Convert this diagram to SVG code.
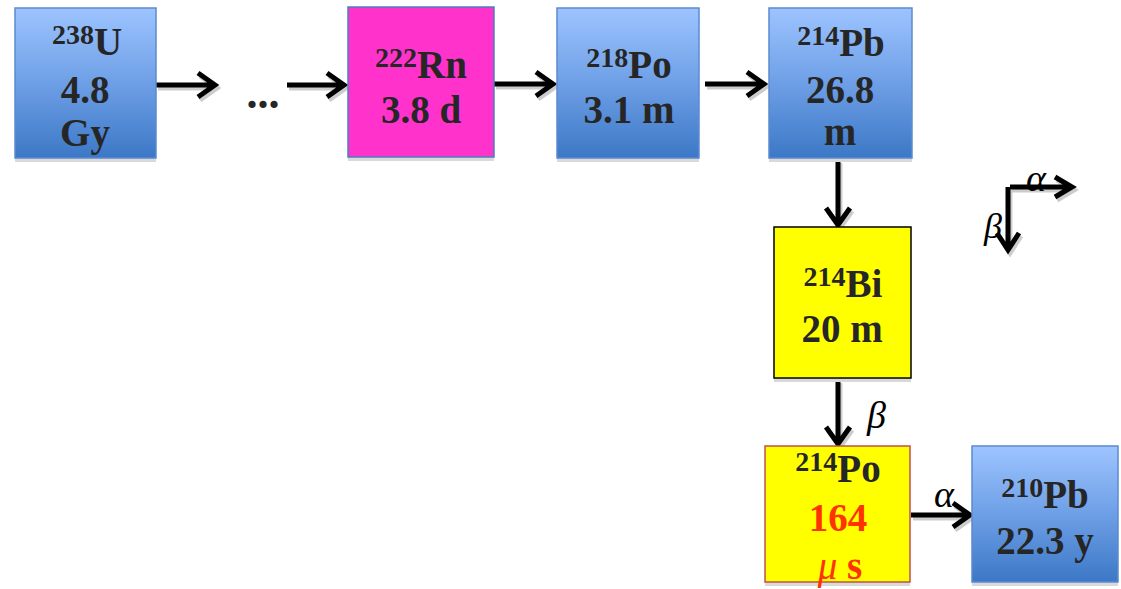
<svg xmlns="http://www.w3.org/2000/svg" width="1121" height="589" viewBox="0 0 1121 589">
<defs>
<linearGradient id="blue" x1="0" y1="0" x2="0" y2="1">
<stop offset="0" stop-color="#9dc4ff"/>
<stop offset="0.5" stop-color="#6e9fe6"/>
<stop offset="1" stop-color="#3c78c6"/>
</linearGradient>
<style>
.box{stroke-width:1.5}
.bl{fill:url(#blue);stroke:#5b8bd0}
.sh{fill:#d9d9d9}
.t{font-family:"Liberation Serif",serif;font-weight:bold;font-size:39px;fill:#262626;text-anchor:middle}
.sup{font-size:28px}
.red{fill:#ff3300}
.ln{stroke:#000;stroke-width:5;fill:none;stroke-linejoin:miter}
.lns{stroke:#bfbfbf;stroke-width:5;fill:none;opacity:0.8}
.g{font-family:"Liberation Serif",serif;font-style:italic;font-size:38px;fill:#000}
</style>
</defs>
<g id="connectors">
<g transform="translate(2,3)">
<path class="lns" d="M156,85 H215 M198,73 L215,85 L198,97"/>
<path class="lns" d="M287,85 H344 M327,73 L344,85 L327,97"/>
<path class="lns" d="M494,84 H553 M536,72 L553,84 L536,96"/>
<path class="lns" d="M705,84 H764 M747,72 L764,84 L747,96"/>
<path class="lns" d="M838,160 V225 M826,208 L838,225 L850,208"/>
<path class="lns" d="M838,380 V444 M826,427 L838,444 L850,427"/>
<path class="lns" d="M911,515 H970 M953,503 L970,515 L953,527"/>
<path class="lns" d="M1010,187 H1072 M1055,177 L1072,187 L1055,197"/>
<path class="lns" d="M1008,187 V250 M997,233 L1008,250 L1019,233"/>
</g>
<path class="ln" d="M156,85 H215 M198,73 L215,85 L198,97"/>
<path class="ln" d="M287,85 H344 M327,73 L344,85 L327,97"/>
<path class="ln" d="M494,84 H553 M536,72 L553,84 L536,96"/>
<path class="ln" d="M705,84 H764 M747,72 L764,84 L747,96"/>
<path class="ln" d="M838,160 V225 M826,208 L838,225 L850,208"/>
<path class="ln" d="M838,380 V444 M826,427 L838,444 L850,427"/>
<path class="ln" d="M911,515 H970 M953,503 L970,515 L953,527"/>
<path class="ln" d="M1010,187 H1072 M1055,177 L1072,187 L1055,197"/>
<path class="ln" d="M1008,187 V250 M997,233 L1008,250 L1019,233"/>
<text class="t" x="263" y="108" style="font-size:44px">...</text>
<text class="g" x="867" y="428">β</text>
<text class="g" x="934" y="507">α</text>
<text class="g" x="1026" y="191" style="font-size:38px">α</text>
<text class="g" x="984" y="238" style="font-size:36px">β</text>
</g>
<g id="U238">
<rect class="sh" x="15" y="158" width="141" height="4"/>
<rect class="box bl" x="15" y="8" width="141" height="150"/>
<text class="t" x="87" y="55"><tspan class="sup" dy="-11">238</tspan><tspan dy="11">U</tspan></text>
<text class="t" x="85" y="103">4.8</text>
<text class="t" x="85" y="146">Gy</text>
</g>
<g id="Rn222">
<rect class="sh" x="348" y="157" width="146" height="4"/>
<rect class="box" x="348" y="7" width="146" height="150" fill="#ff33cc" stroke="#4a7fc0"/>
<text class="t" x="421" y="78"><tspan class="sup" dy="-11">222</tspan><tspan dy="11">Rn</tspan></text>
<text class="t" x="421" y="123">3.8 d</text>
</g>
<g id="Po218">
<rect class="sh" x="557" y="158" width="142" height="4"/>
<rect class="box bl" x="557" y="8" width="142" height="150"/>
<text class="t" x="629" y="78"><tspan class="sup" dy="-11">218</tspan><tspan dy="11">Po</tspan></text>
<text class="t" x="629" y="123">3.1 m</text>
</g>
<g id="Pb214">
<rect class="sh" x="769" y="158" width="143" height="4"/>
<rect class="box bl" x="769" y="8" width="143" height="150"/>
<text class="t" x="841" y="56"><tspan class="sup" dy="-11">214</tspan><tspan dy="11">Pb</tspan></text>
<text class="t" x="840" y="103">26.8</text>
<text class="t" x="840" y="145">m</text>
</g>
<g id="Bi214">
<rect class="sh" x="774" y="378" width="137" height="4"/>
<rect class="box" x="774" y="227" width="137" height="151" fill="#ffff00" stroke="#000"/>
<text class="t" x="843" y="297"><tspan class="sup" dy="-11">214</tspan><tspan dy="11">Bi</tspan></text>
<text class="t" x="842" y="342">20 m</text>
</g>
<g id="Po214">
<rect class="sh" x="765" y="582" width="145" height="4"/>
<rect class="box" x="765" y="446" width="145" height="136" fill="#ffff00" stroke="#c0504d"/>
<text class="t" x="838" y="482"><tspan class="sup" dy="-11">214</tspan><tspan dy="11">Po</tspan></text>
<text class="t red" x="838" y="531">164</text>
<text class="t red" x="840" y="579"><tspan style="font-style:italic;font-weight:normal">μ</tspan> s</text>
</g>
<g id="Pb210">
<rect class="sh" x="972" y="582" width="146" height="4"/>
<rect class="box bl" x="972" y="446" width="146" height="136"/>
<text class="t" x="1045" y="508"><tspan class="sup" dy="-11">210</tspan><tspan dy="11">Pb</tspan></text>
<text class="t" x="1045" y="554">22.3 y</text>
</g>
</svg>
